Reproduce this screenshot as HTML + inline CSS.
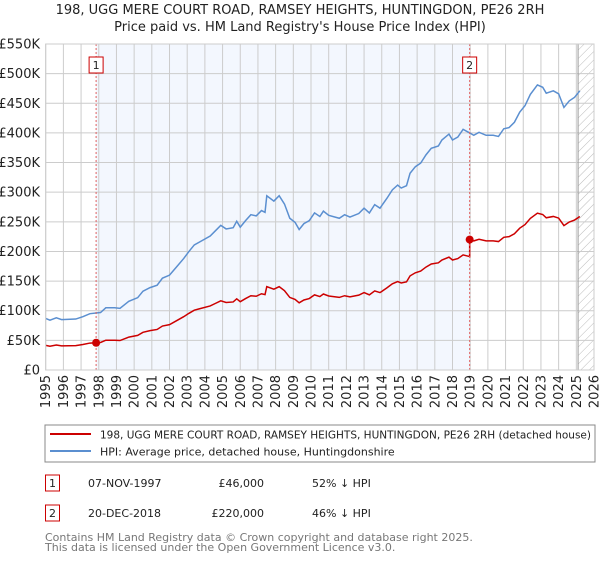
<!DOCTYPE html>
<html><head><meta charset="utf-8"><style>
body{margin:0;background:#fff;font-family:"DejaVu Sans","Liberation Sans",sans-serif;}
svg text{font-family:"DejaVu Sans","Liberation Sans",sans-serif;}
</style></head><body>
<svg id="chart" width="600" height="560" xmlns="http://www.w3.org/2000/svg">
<defs><pattern id="hatch" width="6" height="6" patternUnits="userSpaceOnUse" patternTransform="rotate(45)"><line x1="0" y1="0" x2="0" y2="6" stroke="#bbb" stroke-width="1"/></pattern></defs>
<text x="300" y="14" text-anchor="middle" font-size="13" fill="#222">198, UGG MERE COURT ROAD, RAMSEY HEIGHTS, HUNTINGDON, PE26 2RH</text>
<text x="300" y="31" text-anchor="middle" font-size="13" fill="#222">Price paid vs. HM Land Registry's House Price Index (HPI)</text>
<g id="plot"></g>
<rect x="45" y="425" width="550" height="37" fill="#fff" stroke="#888"/>
<line x1="50" y1="434" x2="91" y2="434" stroke="#cc0000" stroke-width="2"/>
<text x="100" y="438.5" font-size="11" fill="#222" textLength="491" lengthAdjust="spacingAndGlyphs">198, UGG MERE COURT ROAD, RAMSEY HEIGHTS, HUNTINGDON, PE26 2RH (detached house)</text>
<line x1="50" y1="451" x2="91" y2="451" stroke="#5b8fd0" stroke-width="2"/>
<text x="100" y="455.5" font-size="11" fill="#222">HPI: Average price, detached house, Huntingdonshire</text>
<rect x="45.5" y="475" width="14" height="16" fill="#fff" stroke="#cc0000"/>
<text x="52.5" y="487" text-anchor="middle" font-size="11" fill="#222">1</text>
<text x="88" y="487" font-size="11" fill="#222">07-NOV-1997</text>
<text x="264" y="487" text-anchor="end" font-size="11" fill="#222">£46,000</text>
<text x="312" y="487" font-size="11" fill="#222">52% ↓ HPI</text>
<rect x="45.5" y="505" width="14" height="16" fill="#fff" stroke="#cc0000"/>
<text x="52.5" y="517" text-anchor="middle" font-size="11" fill="#222">2</text>
<text x="88" y="517" font-size="11" fill="#222">20-DEC-2018</text>
<text x="264" y="517" text-anchor="end" font-size="11" fill="#222">£220,000</text>
<text x="312" y="517" font-size="11" fill="#222">46% ↓ HPI</text>
<text x="45" y="541" font-size="11" fill="#777">Contains HM Land Registry data © Crown copyright and database right 2025.</text>
<text x="45" y="551" font-size="11" fill="#777">This data is licensed under the Open Government Licence v3.0.</text>
</svg>
<script>
const hpiYears=[1995,1995.24,1995.6,1995.9,1996.7,1997.1,1997.5,1998.1,1998.4,1998.9,1999.2,1999.7,2000.2,2000.5,2000.9,2001.3,2001.6,2002,2002.4,2002.8,2003.1,2003.4,2003.7,2004.3,2004.6,2004.9,2005.2,2005.6,2005.8,2006,2006.3,2006.6,2006.9,2007.2,2007.4,2007.5,2007.9,2008.2,2008.5,2008.8,2009.1,2009.33,2009.6,2009.9,2010.2,2010.5,2010.7,2011,2011.6,2011.9,2012.2,2012.7,2013,2013.3,2013.6,2013.9,2014.3,2014.6,2014.9,2015.1,2015.4,2015.6,2015.9,2016.2,2016.5,2016.8,2017.2,2017.4,2017.8,2018,2018.3,2018.6,2018.97,2019.2,2019.5,2019.9,2020.3,2020.6,2020.9,2021.2,2021.5,2021.8,2022.1,2022.4,2022.8,2023.1,2023.3,2023.7,2024,2024.3,2024.6,2024.9,2025.2];
const hpiValues=[87,84,88,85,86,90,95,97,105,105,104,116,122,133,139,143,155,160,174,188,200,211,216,226,235,244,238,240,251,241,252,262,260,269,266,294,285,294,280,256,249,237,247,252,265,259,268,261,256,262,258,264,273,265,279,273,290,304,312,307,311,332,343,349,363,374,378,388,398,388,393,406,400,396,401,396,396,394,407,409,418,435,446,465,481,477,467,471,466,443,454,460,471];
const saleYears=[1997.85,2018.97];
const salePrices=[46,220];
const yTicks=[0,50,100,150,200,250,300,350,400,450,500,550];
const yTickLabels=["£0","£50K","£100K","£150K","£200K","£250K","£300K","£350K","£400K","£450K","£500K","£550K"];
const xTicks=[1995,1996,1997,1998,1999,2000,2001,2002,2003,2004,2005,2006,2007,2008,2009,2010,2011,2012,2013,2014,2015,2016,2017,2018,2019,2020,2021,2022,2023,2024,2025,2026];
const dataEnd=2025.1;

const X0=45.7,X1=594,Y0=370,Y1=44,XMIN=1995,XMAX=2026,VMAX=550;
const xs=t=>X0+(t-XMIN)*(X1-X0)/(XMAX-XMIN);
const ys=v=>Y0-v*(Y0-Y1)/VMAX;
const NS="http://www.w3.org/2000/svg";
const g=document.getElementById('plot');
function mk(tag,attrs){const e=document.createElementNS(NS,tag);for(const k in attrs)e.setAttribute(k,attrs[k]);g.appendChild(e);return e;}

let e=mk('rect',{x:xs(saleYears[0]),y:Y1,width:xs(saleYears[1])-xs(saleYears[0]),height:Y0-Y1,fill:'#eef3fd',opacity:0.7});


e=mk('rect',{x:xs(dataEnd),y:Y1,width:X1-xs(dataEnd),height:Y0-Y1,fill:'url(#hatch)'});


yTicks.forEach((v,i)=>{
  let l=mk('line',{x1:X0,x2:X1,y1:ys(v),y2:ys(v),stroke:'#cccccc','stroke-width':1});
  
  
  let t=mk('text',{x:40,y:ys(v)+4.5,'text-anchor':'end','font-size':13,fill:'#222'});
  t.textContent=yTickLabels[i];
  
  
});
xTicks.forEach(yr=>{
  let l=mk('line',{x1:xs(yr),x2:xs(yr),y1:Y1,y2:Y0,stroke:'#cccccc','stroke-width':1});
  
  
  let t=mk('text',{x:0,y:0,'text-anchor':'end','font-size':13,fill:'#222',transform:`translate(${xs(yr)+4.5},${Y0+5}) rotate(-90)`});
  t.textContent=yr;
  
  
});
e=mk('line',{x1:xs(dataEnd),x2:xs(dataEnd),y1:Y1,y2:Y0,stroke:'#999','stroke-width':1});


function hpiAt(t){for(let i=1;i<hpiYears.length;i++){if(t<=hpiYears[i]){const f=(t-hpiYears[i-1])/(hpiYears[i]-hpiYears[i-1]);return hpiValues[i-1]+f*(hpiValues[i]-hpiValues[i-1]);}}return hpiValues[hpiValues.length-1];}
let redPts=[];
const h1=hpiAt(saleYears[0]),h2=hpiAt(saleYears[1]);
hpiYears.forEach((t,i)=>{
  if(t<saleYears[1]) redPts.push([t,hpiValues[i]*salePrices[0]/h1]);
  if(t>=saleYears[1]){ if(redPts.length&&redPts[redPts.length-1][0]<saleYears[1]){redPts.push([saleYears[1],h2*salePrices[0]/h1]);redPts.push([saleYears[1],salePrices[1]]);} if(t>saleYears[1]) redPts.push([t,hpiValues[i]*salePrices[1]/h2]); }
});
e=mk('polyline',{points:hpiYears.map((t,i)=>xs(t)+','+ys(hpiValues[i])).join(' '),fill:'none',stroke:'#5b8fd0','stroke-width':1.5});


e=mk('polyline',{points:redPts.map(p=>xs(p[0])+','+ys(p[1])).join(' '),fill:'none',stroke:'#cc0000','stroke-width':1.5});


saleYears.forEach((t,i)=>{
  let l=mk('line',{x1:xs(t),x2:xs(t),y1:Y1,y2:Y0,stroke:'#e06060','stroke-width':1,'stroke-dasharray':'2,2'});
  
  
  let c=mk('circle',{cx:xs(t),cy:ys(salePrices[i]),r:4,fill:'#cc0000'});
  
  
  let r=mk('rect',{x:xs(t)-7,y:57,width:14,height:16,fill:'#fff',stroke:'#cc0000'});
  
  
  let tx=mk('text',{x:xs(t),y:69,'text-anchor':'middle','font-size':11,fill:'#222'});
  tx.textContent=String(i+1);
  
  
});
e=mk('rect',{x:X0,y:Y1,width:X1-X0,height:Y0-Y1,fill:'none',stroke:'#cccccc'});


</script>
</body></html>
